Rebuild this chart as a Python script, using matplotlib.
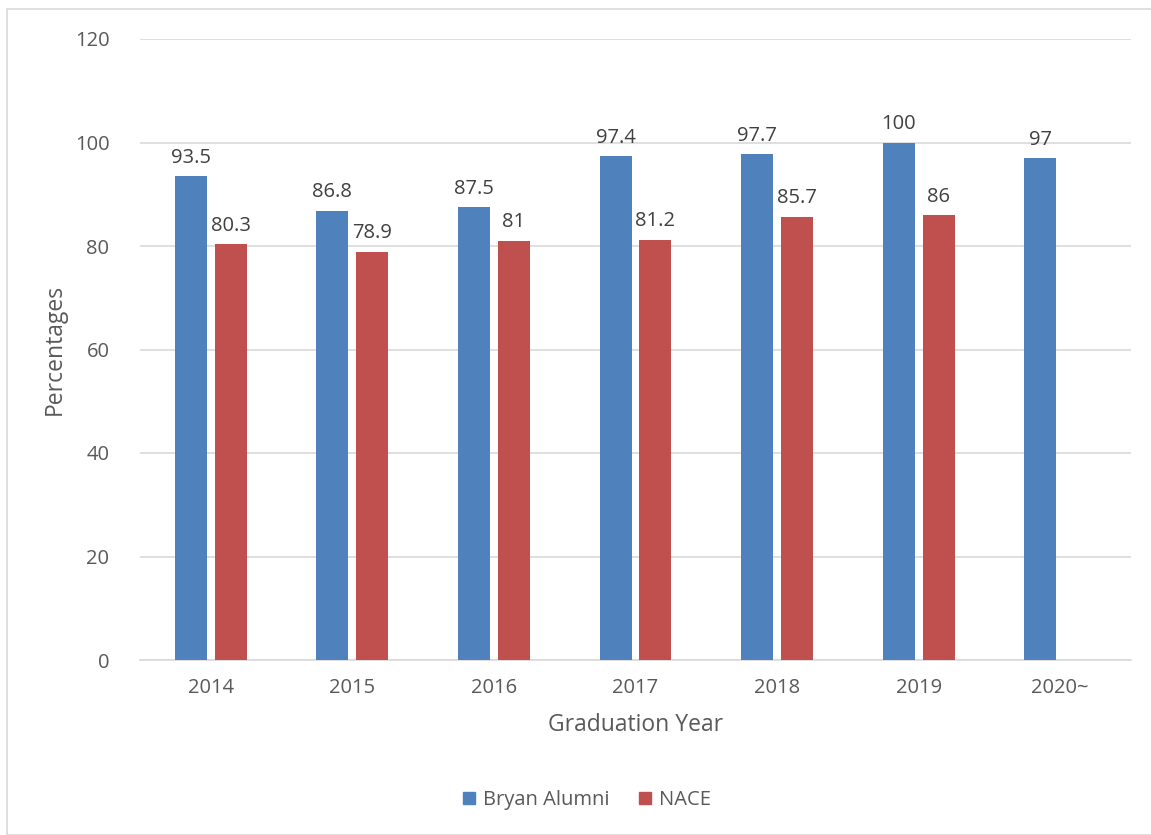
import matplotlib.pyplot as plt
import matplotlib.patches as mpatches
import numpy as np

# Chart data
years = ["2014", "2015", "2016", "2017", "2018", "2019", "2020~"]
bryan_alumni = [93.5, 86.8, 87.5, 97.4, 97.7, 100, 97]
nace = [80.3, 78.9, 81, 81.2, 85.7, 86, None]
y_ticks = [0, 20, 40, 60, 80, 100, 120]

BLUE = "#4F81BD"
RED = "#C0504D"
TEXT = "#595959"

plt.rcParams["font.family"] = ["Open Sans", "DejaVu Sans"]

fig = plt.figure(figsize=(11.51, 8.35), dpi=100)
ax = fig.add_axes([140 / 1151, 1 - 660 / 835, 991 / 1151, 621 / 835])

x = np.arange(len(years))
width = 0.226
offset = 0.141

# Bryan Alumni bars
b1 = ax.bar(x - offset, bryan_alumni, width, color=BLUE, label="Bryan Alumni", zorder=3)
# NACE bars (no value for 2020~)
nace_x = [xi + offset for xi, v in zip(x, nace) if v is not None]
nace_v = [v for v in nace if v is not None]
b2 = ax.bar(nace_x, nace_v, width, color=RED, label="NACE", zorder=3)

# Data labels
for rect, v in zip(list(b1) + list(b2), bryan_alumni + nace_v):
    ax.annotate(f"{v:g}", (rect.get_x() + rect.get_width() / 2, v),
                xytext=(0, 6), textcoords="offset points",
                ha="center", va="bottom", fontsize=14.5, color="#404040")

ax.set_xlim(-0.5, len(years) - 0.5)
ax.set_ylim(0, 120)
ax.set_yticks(y_ticks)
ax.set_xticks(x)
ax.set_xticklabels(years)
ax.grid(axis="y", color="#D9D9D9", linewidth=1.2, zorder=0)
ax.tick_params(axis="both", length=0, labelsize=14.5, labelcolor=TEXT)
ax.tick_params(axis="y", pad=22)
ax.tick_params(axis="x", pad=13)
for side in ["top", "right", "left"]:
    ax.spines[side].set_visible(False)
ax.spines["bottom"].set_color("#D9D9D9")
ax.spines["bottom"].set_linewidth(1.2)

ax.set_xlabel("Graduation Year", fontsize=16.5, color=TEXT, labelpad=11)
ax.set_ylabel("Percentages", fontsize=16.5, color=TEXT, labelpad=6)

handles = [mpatches.Patch(color=BLUE), mpatches.Patch(color=RED)]
fig.legend(handles, ["Bryan Alumni", "NACE"], loc="center",
           bbox_to_anchor=(587 / 1151, 1 - 800 / 835), ncol=2, frameon=False,
           fontsize=14.5, labelcolor=TEXT, handlelength=0.6, handleheight=0.6,
           handletextpad=0.4, columnspacing=1.5)

# Chart area border
fig.patches.append(mpatches.Rectangle((7 / 1151, 0), 1.2, 1 - 9 / 835,
                                      transform=fig.transFigure, fill=False,
                                      edgecolor="#D9D9D9", linewidth=1.2))

fig.savefig("out.png", dpi=100)
